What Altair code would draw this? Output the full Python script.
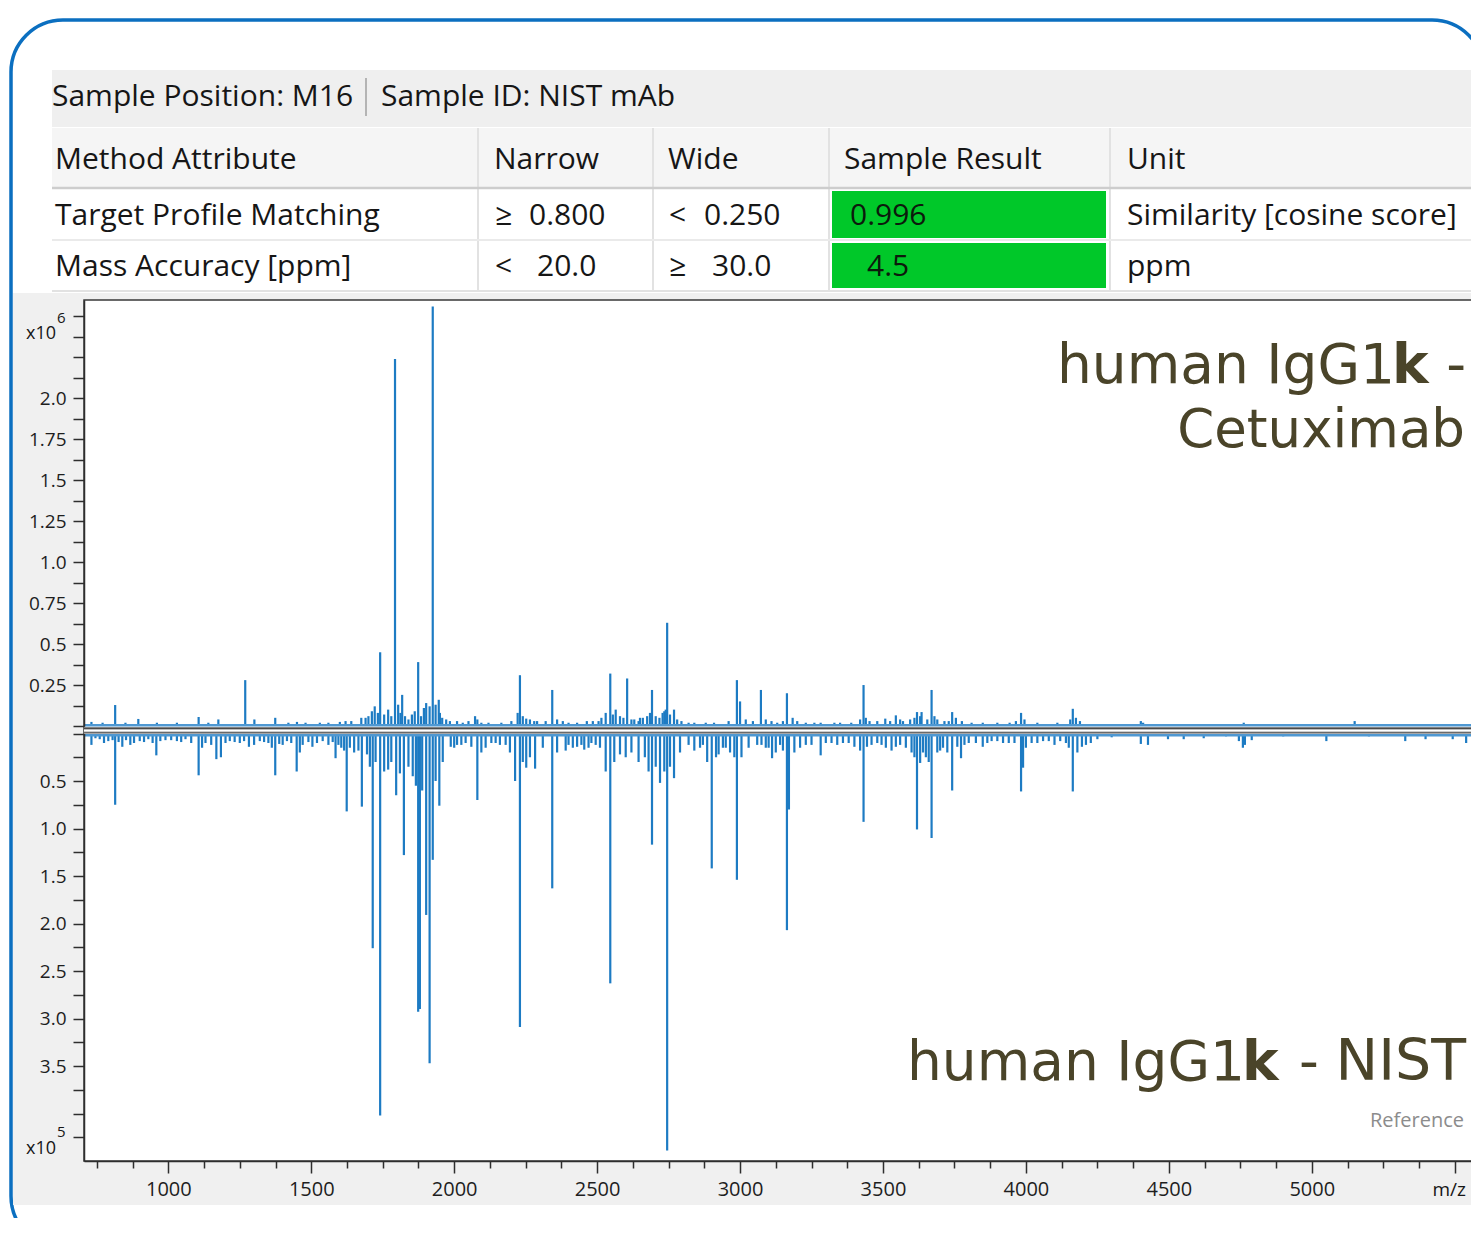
import altair as alt
import pandas as pd

# ---------------- data ----------------
# upper trace: human IgG1k - Cetuximab, intensity in units of 1e6
upper_mz = [731, 770, 814, 850, 895, 960, 1030, 1106, 1140, 1175, 1269, 1301, 1374, 1420, 1450,
            1530, 1600, 1640, 1675, 1700, 1712, 1722, 1733, 1741, 1755, 1769, 1780, 1793, 1804,
            1812, 1818, 1828, 1840, 1852, 1862, 1874, 1884, 1894, 1902, 1914, 1925, 1935, 1946,
            1958, 1972, 2030, 2073, 2081, 2095, 2165, 2222, 2230, 2240, 2252, 2265, 2290, 2343,
            2380, 2430, 2464, 2505, 2530, 2546, 2555, 2565, 2580, 2592, 2605, 2620, 2645, 2660,
            2675, 2692, 2705, 2718, 2729, 2745, 2755, 2769, 2780, 2840, 2909, 2960, 2989, 3000,
            3020, 3045, 3073, 3090, 3130, 3164, 3184, 3230, 3282, 3330, 3389, 3420, 3432, 3453,
            3508, 3525, 3545, 3570, 3595, 3619, 3635, 3655, 3670, 3690, 3715, 3742, 3776, 3810,
            3849, 3900, 3943, 3983, 3995, 4040, 4110, 4164, 4175, 4189, 4402, 4410, 4762, 5150,
            1480, 1560, 1620, 1690, 1950, 1985, 2010, 2050, 2120, 2200, 2280, 2320, 2360, 2400,
            2485, 2515, 2630, 2650, 2685, 2735, 2740, 2795, 2820, 2880, 3110, 3150, 3200, 3260,
            3350, 3440, 3480, 3560, 3610, 3630, 3680, 3730, 3755, 3965, 4155]
upper_int = [0.025, 0.02, 0.128, 0.02, 0.043, 0.02, 0.02, 0.055, 0.02, 0.04, 0.28, 0.04, 0.05, 0.02, 0.025,
             0.02, 0.025, 0.03, 0.05, 0.06, 0.09, 0.12, 0.08, 0.45, 0.07, 0.10, 0.06, 2.24, 0.13,
             0.08, 0.19, 0.06, 0.04, 0.07, 0.09, 0.39, 0.06, 0.11, 0.14, 0.12, 2.56, 0.13, 0.16,
             0.05, 0.04, 0.02, 0.06, 0.04, 0.02, 0.02, 0.08, 0.31, 0.06, 0.045, 0.04, 0.03, 0.22,
             0.03, 0.02, 0.03, 0.03, 0.08, 0.32, 0.07, 0.10, 0.06, 0.05, 0.29, 0.04, 0.03, 0.05,
             0.06, 0.22, 0.06, 0.05, 0.08, 0.63, 0.07, 0.10, 0.04, 0.02, 0.02, 0.03, 0.28, 0.15,
             0.04, 0.03, 0.22, 0.04, 0.02, 0.20, 0.05, 0.02, 0.02, 0.02, 0.02, 0.04, 0.25, 0.03,
             0.045, 0.03, 0.065, 0.03, 0.04, 0.085, 0.085, 0.04, 0.22, 0.04, 0.03, 0.085, 0.03, 0.02,
             0.02, 0.02, 0.02, 0.08, 0.04, 0.02, 0.02, 0.105, 0.05, 0.03, 0.03, 0.02, 0.02, 0.03,
             0.02, 0.02, 0.03, 0.05, 0.08, 0.03, 0.03, 0.03, 0.02, 0.03, 0.03, 0.03, 0.04, 0.02,
             0.03, 0.05, 0.04, 0.05, 0.08, 0.09, 0.10, 0.03, 0.02, 0.02, 0.03, 0.03, 0.03, 0.02,
             0.02, 0.05, 0.03, 0.04, 0.05, 0.06, 0.06, 0.03, 0.05, 0.03, 0.04]

# lower trace: human IgG1k - NIST (reference), intensity in units of 1e5
lower_mz = [731, 760, 790, 814, 839, 867, 900, 930, 958, 990, 1030, 1060, 1106, 1130, 1168, 1184,
            1215, 1250, 1282, 1320, 1350, 1374, 1400, 1430, 1449, 1470, 1504, 1540, 1560, 1585,
            1605, 1624, 1650, 1665, 1677, 1695, 1705, 1715, 1725, 1741, 1755, 1769, 1780, 1797,
            1810, 1824, 1840, 1855, 1866, 1874, 1880, 1888, 1902, 1914, 1925, 1935, 1948, 1960,
            1988, 2010, 2040, 2081, 2095, 2130, 2160, 2195, 2213, 2230, 2240, 2252, 2265, 2283,
            2310, 2343, 2360, 2400, 2430, 2455, 2480, 2510, 2530, 2546, 2560, 2580, 2600, 2620,
            2645, 2667, 2680, 2692, 2705, 2720, 2735, 2745, 2755, 2769, 2790, 2820, 2860, 2885,
            2901, 2916, 2940, 2965, 2989, 3005, 3030, 3060, 3090, 3112, 3140, 3164, 3171, 3190,
            3230, 3282, 3320, 3360, 3400, 3432, 3444, 3480, 3510, 3545, 3580, 3600, 3619, 3630,
            3650, 3670, 3690, 3710, 3742, 3773, 3800, 3849, 3880, 3920, 3960, 3983, 3990, 4020,
            4060, 4100, 4140, 4164, 4196, 4227, 4300, 4402, 4427, 4497, 4552, 4622, 4700, 4745,
            4759, 4766, 4790, 4900, 5051, 5200, 5327, 5398, 5493, 5540,
            745, 775, 805, 826, 852, 880, 915, 945, 972, 1010, 1045, 1080, 1118, 1150, 1200,
            1232, 1265, 1300, 1335, 1362, 1388, 1415, 1460, 1490, 1520, 1575, 1595, 1615, 1635,
            2000, 2025, 2060, 2110, 2145, 2180, 2390, 2415, 2445, 2470, 2495, 2840, 2870, 2925,
            2950, 2980, 3075, 3100, 3125, 3150, 3210, 3250, 3300, 3340, 3380, 3420, 3460, 3495,
            3530, 3560, 3610, 3640, 3660, 3700, 3725, 3760, 3785, 3825, 3865, 3900, 3940, 4000,
            4040, 4080, 4120, 4150, 4180, 4210, 4250]
lower_int = [0.12, 0.06, 0.08, 0.75, 0.14, 0.12, 0.08, 0.06, 0.23, 0.07, 0.08, 0.06, 0.44, 0.10, 0.27, 0.25,
             0.08, 0.10, 0.14, 0.08, 0.10, 0.44, 0.12, 0.10, 0.40, 0.12, 0.14, 0.08, 0.12, 0.26,
             0.15, 0.82, 0.20, 0.18, 0.77, 0.22, 0.35, 2.26, 0.30, 4.02, 0.40, 0.38, 0.30, 0.65,
             0.42, 1.28, 0.35, 0.45, 0.55, 2.93, 2.90, 0.60, 1.91, 3.47, 1.33, 0.50, 0.76, 0.30,
             0.14, 0.12, 0.10, 0.70, 0.20, 0.10, 0.12, 0.20, 0.50, 3.09, 0.30, 0.36, 0.25, 0.37,
             0.15, 1.63, 0.20, 0.12, 0.14, 0.17, 0.10, 0.15, 0.40, 2.63, 0.30, 0.22, 0.25, 0.20,
             0.30, 0.25, 0.40, 1.17, 0.35, 0.52, 0.40, 4.39, 0.35, 0.47, 0.20, 0.12, 0.15, 0.30,
             1.42, 0.25, 0.15, 0.20, 1.54, 0.25, 0.15, 0.12, 0.15, 0.26, 0.12, 2.07, 0.80, 0.20,
             0.12, 0.23, 0.10, 0.10, 0.14, 0.93, 0.14, 0.10, 0.15, 0.14, 0.15, 0.20, 1.01, 0.31,
             0.25, 1.10, 0.20, 0.15, 0.60, 0.26, 0.10, 0.14, 0.08, 0.10, 0.10, 0.61, 0.36, 0.10,
             0.08, 0.12, 0.10, 0.61, 0.14, 0.10, 0.04, 0.11, 0.12, 0.06, 0.06, 0.05, 0.03, 0.08,
             0.15, 0.12, 0.07, 0.03, 0.08, 0.03, 0.08, 0.06, 0.06, 0.10,
             0.05, 0.10, 0.07, 0.09, 0.07, 0.10, 0.09, 0.10, 0.08, 0.07, 0.09, 0.10, 0.15, 0.12, 0.10,
             0.09, 0.08, 0.12, 0.09, 0.15, 0.11, 0.08, 0.20, 0.09, 0.10, 0.09, 0.12, 0.18, 0.15,
             0.15, 0.12, 0.14, 0.15, 0.10, 0.12, 0.18, 0.15, 0.12, 0.15, 0.12, 0.18, 0.12, 0.22,
             0.15, 0.25, 0.12, 0.15, 0.20, 0.18, 0.15, 0.12, 0.10, 0.12, 0.10, 0.18, 0.12, 0.12,
             0.18, 0.12, 0.25, 0.20, 0.30, 0.18, 0.20, 0.14, 0.12, 0.10, 0.10, 0.08, 0.10, 0.15,
             0.10, 0.08, 0.08, 0.15, 0.20, 0.12, 0.06]

x_ticks = [750 + 125 * i for i in range(39)]          # 750 ... 5500
upper_ticks = [0.125 * i for i in range(21)]           # 0 ... 2.5
lower_ticks = [0.25 * i for i in range(18)]            # 0 ... 4.25

# table texts
header_cells = ["Sample Position: M16", "Sample ID: NIST mAb"]
col_heads = ["Method Attribute", "Narrow", "Wide", "Sample Result", "Unit"]
row_attr = ["Target Profile Matching", "Mass Accuracy [ppm]"]
row_narrow_sym = ["\u2265", "<"]
row_narrow_val = ["0.800", "20.0"]
row_wide_sym = ["<", "\u2265"]
row_wide_val = ["0.250", "30.0"]
row_result = ["0.996", "4.5"]
row_unit = ["Similarity [cosine score]", "ppm"]

# ---------------- layout ----------------
W, H = 1387, 861          # plot area
OX, OY = 84, 300          # plot origin in page-picture pixels
LINE = "#1d7bc3"
UIFONT = "Open Sans"
BIGFONT = "DejaVu Sans"
BIGCOL = "#4a4429"

one = alt.Data(values=[{"d": 0}])


def px(x):
    return x - OX


def py(y):
    return y - OY


def rect(x1, y1, x2, y2, **kw):
    return alt.Chart(one).mark_rect(**kw).encode(
        x=alt.value(px(x1)), x2=alt.value(px(x2)), y=alt.value(py(y1)), y2=alt.value(py(y2)))


def hline(y, x1, x2, color, width):
    return alt.Chart(one).mark_rule(color=color, strokeWidth=width).encode(
        x=alt.value(px(x1)), x2=alt.value(px(x2)), y=alt.value(py(y)))


def vline(x, y1, y2, color, width):
    return alt.Chart(one).mark_rule(color=color, strokeWidth=width).encode(
        x=alt.value(px(x)), y=alt.value(py(y1)), y2=alt.value(py(y2)))


def text(s, x, y, size, font=UIFONT, color="#161616", align="left", baseline="middle", weight="normal"):
    return alt.Chart(one).mark_text(text=s, fontSize=size, font=font, color=color, align=align,
                                    baseline=baseline, fontWeight=weight).encode(
        x=alt.value(px(x)), y=alt.value(py(y)))


layers = []
# outer blue frame and grey panel background
layers.append(rect(11, 20, 1484, 1248, fillOpacity=0, stroke="#0b6fc0", strokeWidth=3.5, cornerRadius=52))
layers.append(rect(13, 293, 1475, 1205, fill="#f0f0f0"))
layers.append(rect(84, 300, 1480, 1161, fill="#ffffff", stroke="#383838", strokeWidth=1.5))

# table
layers.append(rect(52, 70, 1475, 127, fill="#efefef"))
layers.append(rect(52, 128, 1475, 187, fill="#f5f5f5"))
layers.append(vline(366, 78, 116, "#a0a0a0", 1.5))
for xv in [478, 653, 829, 1110]:
    layers.append(vline(xv, 128, 291, "#e2e2e2", 2))
layers.append(hline(188, 52, 1475, "#cdcdcd", 2.5))
layers.append(hline(240, 52, 1475, "#eaeaea", 2))
layers.append(hline(291, 52, 1475, "#e2e2e2", 2))
layers.append(rect(832, 191, 1106, 238, fill="#00c829"))
layers.append(rect(832, 243, 1106, 288, fill="#00c829"))

TS = 30
layers.append(text(header_cells[0], 52, 97, TS))
layers.append(text(header_cells[1], 381, 97, TS))
for s, xv in zip(col_heads, [55, 494, 668, 844, 1127]):
    layers.append(text(s, xv, 160, TS))
for i, yv in enumerate([216, 267]):
    layers.append(text(row_attr[i], 55, yv, TS))
    layers.append(text(row_narrow_sym[i], 495, yv, TS))
    layers.append(text(row_narrow_val[i], [529, 537][i], yv, TS))
    layers.append(text(row_wide_sym[i], 669, yv, TS))
    layers.append(text(row_wide_val[i], [704, 712][i], yv, TS))
    layers.append(text(row_result[i], [850, 867][i], yv, TS, color="#0c1a0c"))
    layers.append(text(row_unit[i], 1127, yv, TS))

# spectra
df_up = pd.DataFrame({"mz": upper_mz, "int": upper_int, "base": [0.0] * len(upper_mz)})
df_lo = pd.DataFrame({"mz": lower_mz, "int": lower_int, "base": [0.0] * len(lower_mz)})

x_axis = alt.Axis(values=x_ticks, title=None, grid=False, zindex=2,
                  labelExpr="(datum.value % 500 == 0 && datum.value <= 5000) ? format(datum.value, 'd') : ''",
                  tickSize={"condition": {"test": "datum.value % 500 == 0", "value": 12}, "value": 7},
                  labelPadding=6, labelFontSize=20)
x_enc = alt.X("mz:Q", scale=alt.Scale(domain=[705, 5557], nice=False, zero=False), axis=x_axis)

up_axis = alt.Axis(orient="left", values=upper_ticks, title=None, grid=False, zindex=2, tickSize=11,
                   labelPadding=7,
                   labelExpr="(datum.value >= 0.25 && datum.value <= 2 && datum.value * 4 == floor(datum.value * 4)) ? "
                             "(datum.value * 2 == floor(datum.value * 2) ? format(datum.value, '.1f') : format(datum.value, '.2f')) : ''")
lo_axis = alt.Axis(orient="left", values=lower_ticks, title=None, grid=False, zindex=2, tickSize=11,
                   labelPadding=7,
                   labelExpr="(datum.value >= 0.5 && datum.value <= 3.5 && datum.value * 2 == floor(datum.value * 2)) ? "
                             "format(datum.value, '.1f') : ''")

upper = alt.Chart(df_up).mark_rule(color=LINE, strokeWidth=2.2).encode(
    x=x_enc,
    y=alt.Y("int:Q", scale=alt.Scale(domain=[0, 2.6], range=[426, 0], nice=False), axis=up_axis),
    y2="base:Q",
)
lower = alt.Chart(df_lo).mark_rule(color=LINE, strokeWidth=2.2).encode(
    x=x_enc,
    y=alt.Y("int:Q", scale=alt.Scale(domain=[0, 4.5], range=[433.5, 861], nice=False), axis=lo_axis),
    y2="base:Q",
)

# baseline band between the two traces
band = [
    hline(725.2, 84, 1475, "#4f98d2", 2.6),
    rect(84, 727, 1475, 734, fill="#bdbdbd"),
    hline(728.3, 84, 1475, "#4a4a4a", 1.4),
    hline(730.6, 84, 1475, "#ffffff", 1.2),
    hline(732.6, 84, 1475, "#6a6a6a", 1.4),
    hline(735.3, 84, 1475, "#4f98d2", 2.6),
]

annot = [
    text("x10", 56, 339, 18, baseline="alphabetic", align="right"),
    text("6", 57, 323, 15, baseline="alphabetic"),
    text("x10", 56, 1154, 18, baseline="alphabetic", align="right"),
    text("5", 57, 1137, 15, baseline="alphabetic"),
    text("m/z", 1466, 1190, 19, align="right"),
    text("human IgG1", 1057, 383, 55, font=BIGFONT, color=BIGCOL, baseline="alphabetic"),
    text("k", 1392, 383, 55, font=BIGFONT, color=BIGCOL, baseline="alphabetic", weight="bold"),
    text("-", 1466, 383, 55, font=BIGFONT, color=BIGCOL, baseline="alphabetic", align="right"),
    text("Cetuximab", 1465, 447, 53, font=BIGFONT, color=BIGCOL, baseline="alphabetic", align="right"),
    text("human IgG1", 907, 1080, 55, font=BIGFONT, color=BIGCOL, baseline="alphabetic"),
    text("k", 1242, 1080, 55, font=BIGFONT, color=BIGCOL, baseline="alphabetic", weight="bold"),
    text("-", 1299, 1080, 55, font=BIGFONT, color=BIGCOL, baseline="alphabetic"),
    text("NIST", 1466, 1080, 57, font=BIGFONT, color=BIGCOL, baseline="alphabetic", align="right"),
    text("Reference", 1464, 1127, 20, color="#8c8c8c", baseline="alphabetic", align="right"),
]

chart = alt.layer(*layers, upper, lower, *band, *annot).resolve_scale(y="independent").properties(
    width=W, height=H,
    autosize=alt.AutoSizeParams(type="none"),
    padding={"left": 76, "top": 292, "right": 0, "bottom": 57},
    background="white",
).configure_view(strokeWidth=0).configure_axis(
    domainColor="#2e2e2e", domainWidth=1.5, tickColor="#2e2e2e", tickWidth=1.5,
    labelFont=UIFONT, labelFontSize=19, labelColor="#1e1e1e",
)

chart.save("out.html", embed_options={"renderer": "svg", "actions": False})
